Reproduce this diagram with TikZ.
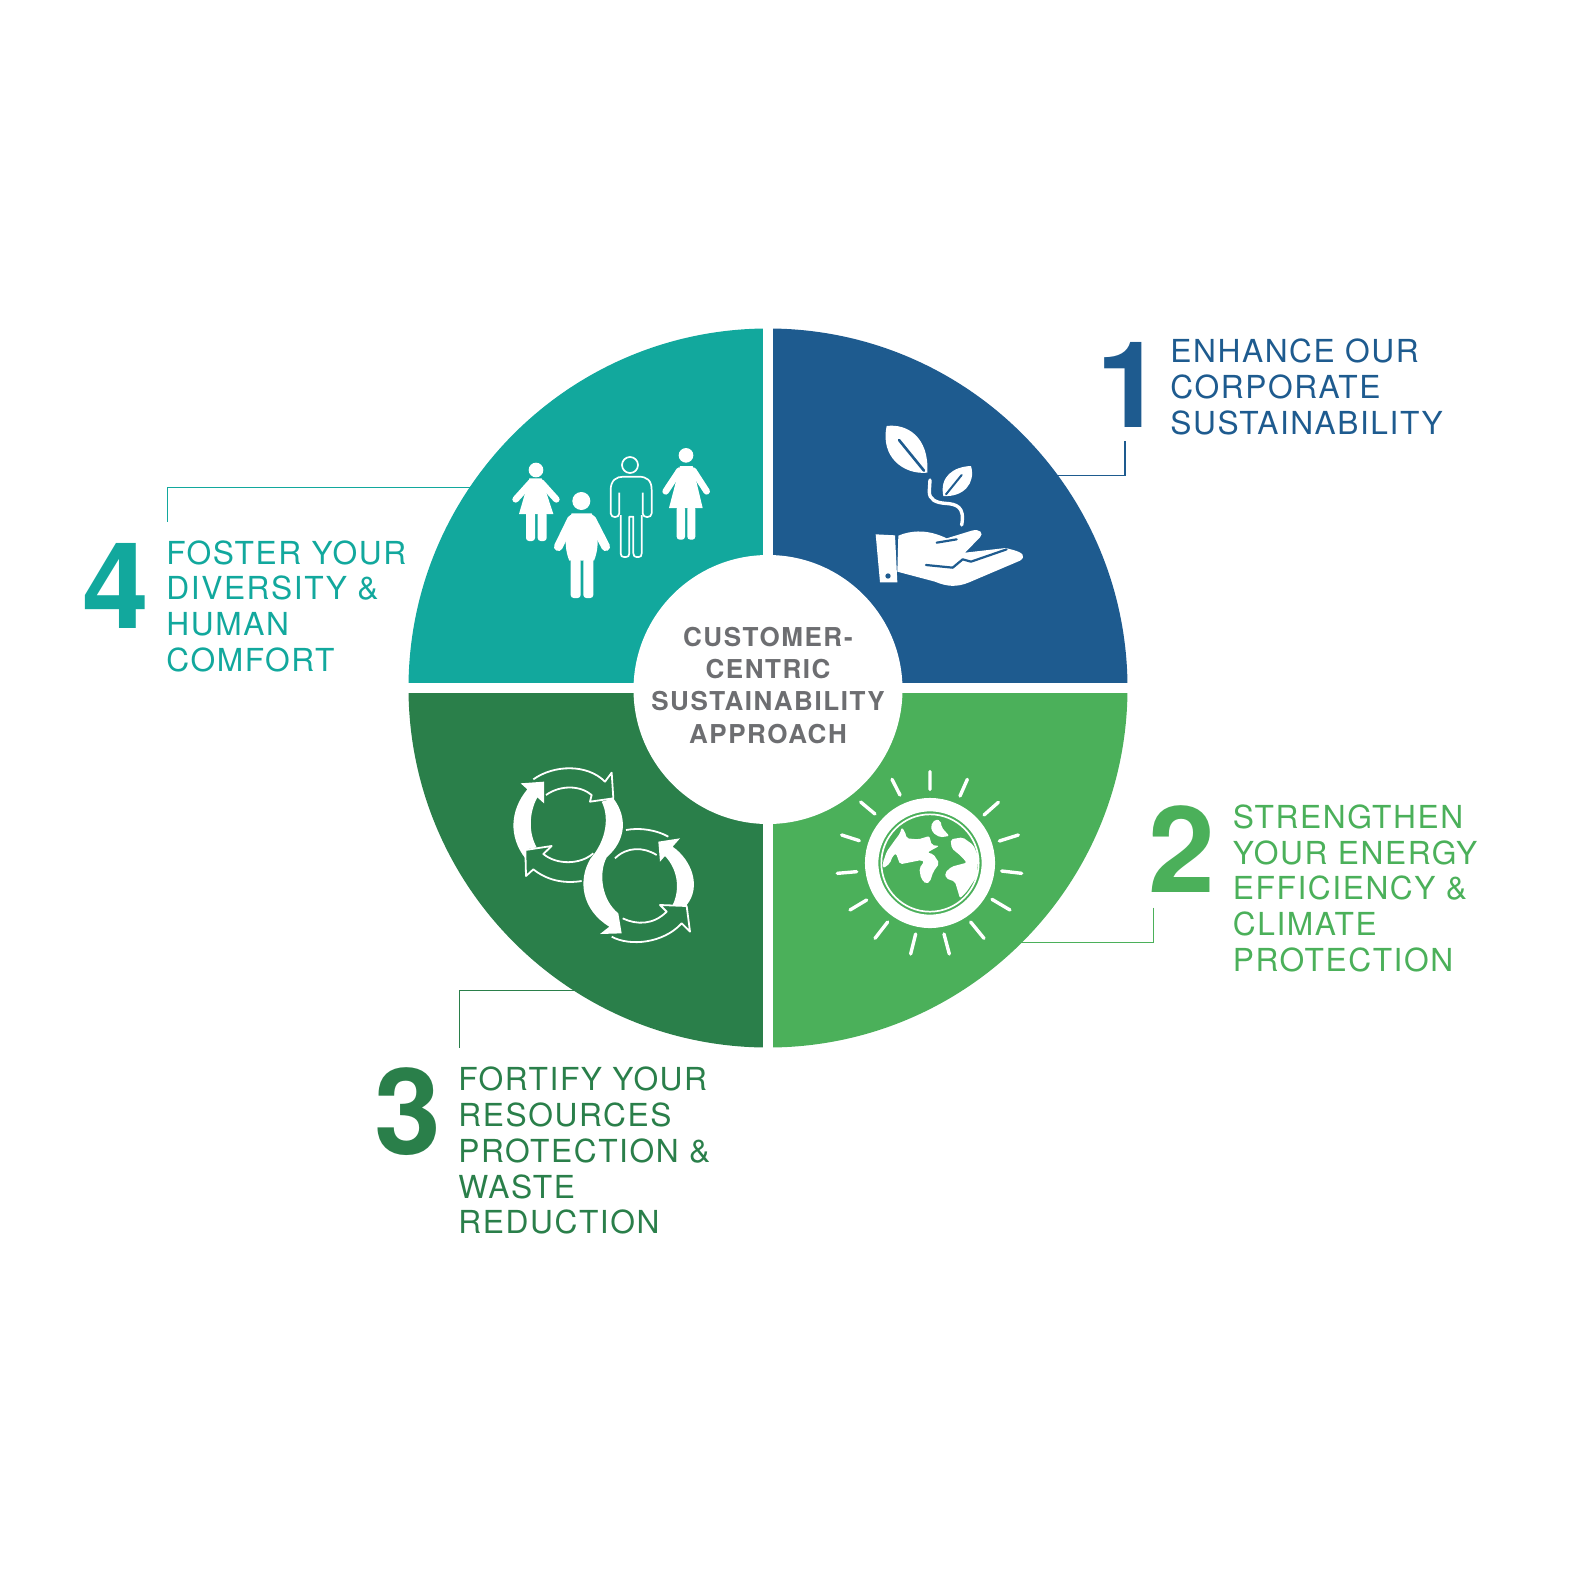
\documentclass[tikz,border=0pt]{standalone}
\usepackage{fontspec}
\setmainfont{TeX Gyre Heros}
\newfontfamily\labelfont[LetterSpace=5]{TeX Gyre Heros}
\newfontfamily\hubfont[LetterSpace=6]{TeX Gyre Heros}
\definecolor{corpblue}{HTML}{1E5B8F}
\definecolor{energygreen}{HTML}{4BB05A}
\definecolor{wastegreen}{HTML}{2A7F4A}
\definecolor{comfortteal}{HTML}{12A89D}
\definecolor{hubgrey}{HTML}{6D6E71}
\tikzset{
  numeral/.style={anchor=base west, inner sep=0pt, font=\fontsize{60}{60}\selectfont\bfseries},
  caption/.style={anchor=base west, inner sep=0pt, align=left, font=\labelfont\fontsize{15.85}{17.9}\selectfont},
  leader/.style={line width=.55pt},
  ray/.style={white, line width=1.7pt, line cap=round},
  thin outline/.style={white, line width=.9pt, line join=round},
}
\begin{document}
\begin{tikzpicture}[x=.5pt, y=-.5pt]
  \useasboundingbox (0,0) rectangle (1585,1585);
  \coordinate (centre) at (768,688);
  % quarters
  \foreach \col/\a in {corpblue/-90,energygreen/0,wastegreen/90,comfortteal/180} {
    \fill[\col] (centre) -- ++(\a:359.5) arc[start angle=\a, end angle=\a+90, radius=359.5] -- cycle;
  }
  \fill[white] (763,320) rectangle (773,1050);
  \fill[white] (400,683) rectangle (1130,693);
  % hub
  \node[circle, fill=white, minimum size=134.5pt, inner sep=0pt, align=center, text=hubgrey, text depth=4.5pt,
    font=\hubfont\fontsize{13}{16.15}\selectfont\bfseries] (hub) at (768,689.5)
    {CUSTOMER-\\CENTRIC\\SUSTAINABILITY\\APPROACH};
  % numerals and captions
  \node[numeral, text=corpblue] (num1) at (1096,427) {1};
  \node[caption, text=corpblue] (cap1) at (1170,434.5) {ENHANCE OUR\\CORPORATE\\SUSTAINABILITY};
  \node[numeral, text=energygreen] (num2) at (1148.5,892) {2};
  \node[caption, text=energygreen] (cap2) at (1232.5,971.5) {STRENGTHEN\\YOUR ENERGY\\EFFICIENCY \&\\CLIMATE\\PROTECTION};
  \node[numeral, text=wastegreen] (num3) at (374,1154) {3};
  \node[caption, text=wastegreen] (cap3) at (458,1233.8) {FORTIFY YOUR\\RESOURCES\\PROTECTION \&\\WASTE\\REDUCTION};
  \node[numeral, text=comfortteal] (num4) at (82.5,628) {4};
  \node[caption, text=comfortteal] (cap4) at (166,671.5) {FOSTER YOUR\\DIVERSITY \&\\HUMAN\\COMFORT};
  % leaders
  \coordinate (end1) at (1125,441);
  \coordinate (edge1) at (1056,475.3);
  \coordinate (end2) at (1153.3,907.7);
  \coordinate (edge2) at (1021,942.7);
  \coordinate (end3) at (459.7,1047.7);
  \coordinate (edge3) at (574,990.3);
  \coordinate (end4) at (167.3,521.7);
  \coordinate (edge4) at (471,487.3);
  \draw[leader, corpblue] (end1) |- (edge1);
  \draw[leader, energygreen] (end2) |- (edge2);
  \draw[leader, wastegreen] (end3) |- (edge3);
  \draw[leader, comfortteal] (end4) |- (edge4);
  % hand and seedling
  \begin{scope}[shift={(840,400)}, scale=1/3]
    \fill[white] (140,78) .. controls (200,70) and (268,110) .. (262,218)
      .. controls (190,225) and (120,170) .. (140,78);
    \draw[corpblue, line width=1.3pt, line cap=round] (177,120) -- (252,212);
    \fill[white] (393,198) .. controls (340,200) and (298,230) .. (310,288)
      .. controls (370,292) and (408,250) .. (393,198);
    \draw[corpblue, line width=1pt, line cap=round] (365,225) -- (318,283);
    \draw[white, line width=1.7pt, line cap=round] (270,240) -- (268,272)
      .. controls (266,300) and (290,308) .. (315,310)
      .. controls (350,312) and (375,320) .. (365,375);
    \fill[white] (107,403) -- (165,406) -- (172,547) -- (120,547) -- cycle;
    \fill[corpblue] (144,528) circle[radius=8];
    \fill[white] (175,407) .. controls (215,390) and (265,388) .. (320,415) -- (395,392)
      .. controls (420,385) and (432,400) .. (420,412) -- (375,458) -- (497,444) -- (520,450)
      .. controls (550,458) and (558,470) .. (540,482) -- (385,548)
      .. controls (350,562) and (320,560) .. (285,545) -- (172,515) -- cycle;
    \draw[corpblue, line width=1.1pt, line cap=round, line join=round]
      (290,428) -- (350,418);
    \draw[corpblue, line width=1.1pt, line cap=round, line join=round]
      (258,495) -- (338,503) -- (368,478) -- (393,485) -- (500,448);
  \end{scope}
  % people
  \begin{scope}[shift={(490,430)}, scale=1/3]
    % girl
    \fill[white] (138,120) circle[radius=22];
    \fill[white] (118,145) -- (155,145) -- (190,252) -- (87,252) -- cycle;
    \draw[white, line width=3.3pt, line cap=round] (122,158) -- (77,208) (154,158) -- (199,208);
    \fill[white, rounded corners=1.5pt] (108,245) rectangle (135,333) (143,245) rectangle (170,333);
    % woman
    \fill[white] (588,76) circle[radius=22];
    \fill[white] (570,108) -- (608,108) -- (638,234) -- (537,234) -- cycle;
    \draw[white, line width=3.3pt, line cap=round] (568,122) -- (527,184) (610,122) -- (650,184);
    \fill[white, rounded corners=1.5pt] (560,228) rectangle (585,329) (592,228) rectangle (616,329);
    % stout figure
    \fill[white] (274,213) circle[radius=27];
    \fill[white] (245,250) -- (305,250) .. controls (325,290) and (330,350) .. (312,392)
      -- (238,392) .. controls (220,350) and (225,290) .. (245,250) -- cycle;
    \draw[white, line width=4.4pt, line cap=round] (245,268) -- (205,350) (305,268) -- (347,350);
    \fill[white, rounded corners=1.5pt] (242,385) rectangle (272,504) (280,385) rectangle (310,504);
    % outline figure
    \draw[white, line width=.85pt] (420,105) circle[radius=24];
    \draw[white, line width=.85pt, line join=round] (388,188) -- (388,250)
      .. controls (388,265) and (362,265) .. (362,250) -- (362,180)
      .. controls (362,150) and (380,140) .. (400,140) -- (445,140)
      .. controls (470,140) and (485,150) .. (485,180) -- (485,250)
      .. controls (485,265) and (458,265) .. (458,250) -- (458,188);
    \draw[white, line width=.85pt, line join=round] (392,255) -- (392,370)
      .. controls (392,378) and (396,381) .. (402,381) -- (408,381)
      .. controls (414,381) and (418,378) .. (418,370) -- (418,260) -- (430,260) -- (430,370)
      .. controls (430,378) and (434,381) .. (440,381) -- (446,381)
      .. controls (452,381) and (455,378) .. (455,370) -- (455,255);
  \end{scope}
  % recycling arrows
  \begin{scope}[shift={(490,750)}, scale=1/3]
    \fill[white] (92,100) -- (162,95) -- (162,160) -- (142,142)
      .. controls (116,190) and (116,250) .. (140,292) -- (108,298) -- (106,325)
      .. controls (55,260) and (60,180) .. (112,118) -- cycle;
    \fill[white] (370,145) .. controls (412,200) and (410,270) .. (350,322)
      .. controls (325,370) and (335,450) .. (385,490) -- (395,550) -- (330,552) -- (358,530)
      .. controls (275,480) and (262,390) .. (302,325)
      .. controls (350,270) and (358,200) .. (335,155) -- cycle;
    \fill[white] (505,275) -- (570,265) -- (548,290)
      .. controls (605,330) and (635,410) .. (590,465) -- (548,465)
      .. controls (570,420) and (565,360) .. (525,318) -- (510,335) -- cycle;
    \draw[thin outline] (130,88) .. controls (190,45) and (290,40) .. (345,95)
      -- (365,68) -- (370,145) -- (300,155) -- (305,135)
      .. controls (270,105) and (210,105) .. (168,135);
    \draw[thin outline] (275,393) .. controls (220,402) and (170,390) .. (130,358)
      -- (108,378) -- (106,300) -- (185,288) -- (160,312)
      .. controls (200,345) and (270,345) .. (310,310);
    \draw[thin outline] (408,240) .. controls (450,232) and (500,240) .. (535,260);
    \draw[thin outline] (375,325) .. controls (410,290) and (460,290) .. (500,315);
    \draw[thin outline] (365,560) .. controls (420,590) and (520,580) .. (575,520)
      -- (600,545) -- (590,468) -- (510,465) -- (530,485)
      .. controls (490,525) and (440,525) .. (398,505);
  \end{scope}
  % globe and sun
  \begin{scope}[shift={(820,750)}, scale=1/3]
    \draw[white, line width=6.7pt] (330,339) circle[radius=175];
    \draw[white, line width=.85pt] (330,339) circle[radius=146];
    \draw[ray] (330,65) -- (330,118) (216,88) -- (240,135) (442,88) -- (420,138)
      (122,156) -- (165,192) (535,157) -- (492,195) (65,255) -- (118,272)
      (595,255) -- (538,273) (52,370) -- (110,365) (605,370) -- (545,363)
      (90,480) -- (140,450) (570,480) -- (516,448) (165,565) -- (203,516)
      (492,565) -- (452,516) (272,612) -- (287,552) (388,612) -- (372,552);
    \fill[white, rounded corners=1pt] (245,232) -- (255,245) -- (260,265) -- (295,268) -- (328,258)
      -- (335,285) -- (358,288) -- (335,300) -- (322,308) -- (340,312) -- (358,340) -- (340,365)
      -- (330,395) -- (318,402) -- (303,385) -- (298,355) -- (312,335) -- (305,330) -- (240,343)
      -- (228,310) -- (218,318) -- (210,340) -- (190,355) -- (188,340) -- (200,305) -- (225,270)
      -- (240,250) -- cycle;
    \fill[white, rounded corners=1pt] (345,208) -- (362,212) -- (365,232) -- (388,258) -- (360,262)
      -- (338,248) -- (332,228) -- cycle;
    \fill[white, rounded corners=1pt] (392,268) -- (428,262) -- (460,285) -- (475,320) -- (470,380)
      -- (440,425) -- (420,445) -- (405,395) -- (378,385) -- (375,368) -- (395,350) -- (440,338)
      -- (425,320) -- (395,295) -- cycle;
  \end{scope}
\end{tikzpicture}
\end{document}
